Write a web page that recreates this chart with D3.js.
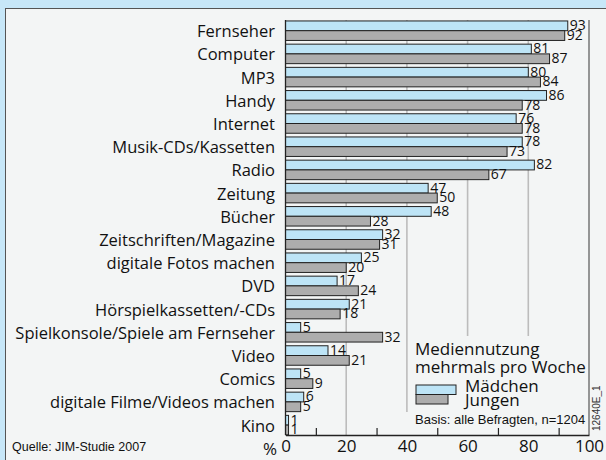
<!DOCTYPE html>
<html>
<head>
<meta charset="utf-8">
<script src="https://cdn.jsdelivr.net/npm/d3@7"></script>
<style>
  body { margin: 0; background: #c7e7f8; }
  svg { display: block; }
</style>
</head>
<body>
<div id="chart"></div>
<script>
const categories = ['Fernseher', 'Computer', 'MP3', 'Handy', 'Internet', 'Musik-CDs/Kassetten', 'Radio',
  'Zeitung', 'Bücher', 'Zeitschriften/Magazine', 'digitale Fotos machen', 'DVD', 'Hörspielkassetten/-CDs',
  'Spielkonsole/Spiele am Fernseher', 'Video', 'Comics', 'digitale Filme/Videos machen', 'Kino'];
const maedchen = [93, 81, 80, 86, 76, 78, 82, 47, 48, 32, 25, 17, 21, 5, 14, 5, 6, 1];
const jungen = [92, 87, 84, 78, 78, 73, 67, 50, 28, 31, 20, 24, 18, 32, 21, 9, 5, 1];
const series = ['Mädchen', 'Jungen'];
const tickLabels = [0, 20, 40, 60, 80, 100];
const minorTicks = [10, 30, 50, 70, 90];

const W = 606, H = 460;
const BLUE = '#bde4f6', GRAY = '#adadad', INK = '#222';

const svg = d3.select('#chart').append('svg').attr('width', W).attr('height', H);

// panel
svg.append('rect').attr('x', 5.5).attr('y', 8.5).attr('width', W).attr('height', H)
  .attr('fill', '#f3f5f5').attr('stroke', '#555');

const x = d3.scaleLinear().domain([0, 100]).range([285.5, 589]);
const y = d3.scaleBand().domain(categories).range([19.1, 436.7]).paddingInner(0.16).paddingOuter(0.08);
const ySub = d3.scaleBand().domain(series).range([0, y.bandwidth()]);
const color = d3.scaleOrdinal().domain(series).range([BLUE, GRAY]);

// gridlines
svg.append('g').selectAll('line').data([20, 40, 60, 80]).join('line')
  .attr('x1', d => x(d)).attr('x2', d => x(d))
  .attr('y1', 20).attr('y2', 435)
  .attr('stroke', '#bcbcbc').attr('stroke-width', 1.6);

// legend backdrop hides gridlines
svg.append('rect').attr('x', 409).attr('y', 336).attr('width', 179).attr('height', 99).attr('fill', '#f3f5f5');
svg.append('rect').attr('x', 402).attr('y', 412).attr('width', 186).attr('height', 23).attr('fill', '#f3f5f5');

// right border line
svg.append('line').attr('x1', x(100)).attr('x2', x(100)).attr('y1', 20).attr('y2', 435)
  .attr('stroke', '#555').attr('stroke-width', 1.2);

const rows = categories.map((c, i) => ({ cat: c, values: [maedchen[i], jungen[i]] }));

const groups = svg.append('g').selectAll('g').data(rows).join('g')
  .attr('transform', d => `translate(0,${y(d.cat)})`);

groups.selectAll('rect').data(d => d.values.map((v, k) => ({ key: series[k], v }))).join('rect')
  .attr('x', x(0))
  .attr('y', d => ySub(d.key))
  .attr('width', d => x(d.v) - x(0))
  .attr('height', ySub.bandwidth())
  .attr('fill', d => color(d.key))
  .attr('stroke', INK).attr('stroke-width', 1);

groups.selectAll('text.val').data(d => d.values.map((v, k) => ({ key: series[k], v }))).join('text')
  .attr('class', 'val')
  .attr('x', d => x(d.v) + 2)
  .attr('y', d => ySub(d.key) + ySub.bandwidth() - 0.5)
  .attr('font-family', 'Open Sans').attr('font-size', 14).attr('fill', '#111')
  .text(d => d.v);

// category labels
svg.append('g').selectAll('text').data(categories).join('text')
  .attr('x', 275).attr('y', d => y(d) + y.bandwidth() / 2 + 6.5)
  .attr('text-anchor', 'end')
  .attr('font-family', 'Open Sans').attr('font-size', 16.5).attr('fill', '#111')
  .text(d => d);

// axes
const axis = svg.append('g').attr('transform', 'translate(0,435)')
  .call(d3.axisBottom(x).tickValues(tickLabels).tickSize(0).tickPadding(5).tickFormat(d => d));
axis.select('.domain').attr('stroke', INK).attr('stroke-width', 1.3);
axis.selectAll('text').attr('font-family', 'Open Sans').attr('font-size', 17).attr('fill', '#111');

const minor = svg.append('g').attr('transform', 'translate(0,435)')
  .call(d3.axisBottom(x).tickValues(minorTicks).tickSize(-7).tickFormat(''));
minor.select('.domain').remove();
minor.selectAll('line').attr('stroke', INK).attr('stroke-width', 1.2);

svg.append('line').attr('x1', x(0)).attr('x2', x(0)).attr('y1', 20).attr('y2', 435)
  .attr('stroke', INK).attr('stroke-width', 1.3);

svg.append('text').attr('x', 277).attr('y', 455).attr('text-anchor', 'end')
  .attr('font-family', 'Open Sans').attr('font-size', 17).attr('fill', '#111').text('%');

// legend
const leg = svg.append('g').attr('font-family', 'Open Sans').attr('fill', '#111');
leg.append('text').attr('x', 415).attr('y', 355).attr('font-size', 17).text('Mediennutzung');
leg.append('text').attr('x', 415).attr('y', 373).attr('font-size', 17).text('mehrmals pro Woche');
leg.append('rect').attr('x', 416).attr('y', 385).attr('width', 40).attr('height', 9.5)
  .attr('fill', BLUE).attr('stroke', INK);
leg.append('rect').attr('x', 416).attr('y', 394.5).attr('width', 32).attr('height', 9.5)
  .attr('fill', GRAY).attr('stroke', INK);
leg.selectAll('text.s').data(series).join('text').attr('class', 's')
  .attr('x', 465).attr('y', (d, i) => 392 + i * 14).attr('font-size', 17).text(d => d);

svg.append('text').attr('x', 415).attr('y', 424)
  .attr('font-family', 'Liberation Sans').attr('font-size', 13).attr('fill', '#111')
  .text('Basis: alle Befragten, n=1204');

svg.append('text').attr('x', 12).attr('y', 451)
  .attr('font-family', 'Liberation Sans').attr('font-size', 12.5).attr('fill', '#111')
  .text('Quelle: JIM-Studie 2007');

svg.append('text').attr('transform', 'translate(600,431) rotate(-90)')
  .attr('font-family', 'Liberation Sans').attr('font-size', 10).attr('fill', '#333')
  .text('12640E_1');
</script>
</body>
</html>
